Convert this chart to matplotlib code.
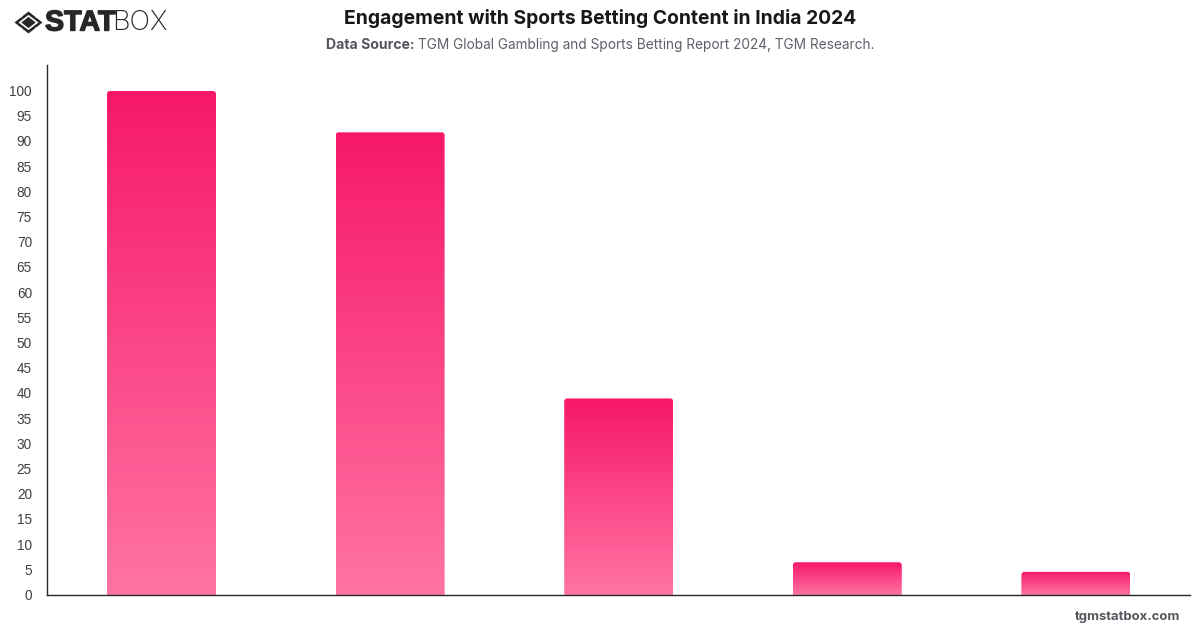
import numpy as np
import matplotlib
matplotlib.use("Agg")
import matplotlib.pyplot as plt
from matplotlib.colors import LinearSegmentedColormap
from matplotlib.patches import PathPatch, Polygon
from matplotlib.path import Path
from matplotlib.transforms import ScaledTranslation
import matplotlib.patheffects as pe

# Chart data
positions = [0, 1, 2, 3, 4]
values = [100, 91.8, 39, 6.5, 4.6]
y_ticks = list(range(0, 105, 5))

TITLE = "Engagement with Sports Betting Content in India 2024"
SOURCE_BOLD = "Data Source:"
SOURCE_TEXT = "TGM Global Gambling and Sports Betting Report 2024, TGM Research."
SITE = "tgmstatbox.com"

plt.rcParams["font.family"] = ["Inter", "DejaVu Sans"]
W, H = 1200, 628
fig = plt.figure(figsize=(W / 100, H / 100), dpi=100, facecolor="white")

# Plot area in pixel terms: left 47.2, width 1143, top 65, baseline 595
ax = fig.add_axes([47.2 / W, 1 - 595 / H, 1143 / W, 530 / H])
ymax = 530 / 5.04
ax.set_xlim(-0.5, 4.5)
ax.set_ylim(0, ymax)
for side in ("top", "right"):
    ax.spines[side].set_visible(False)
for side in ("left", "bottom"):
    ax.spines[side].set_color("#27272f")
    ax.spines[side].set_linewidth(1.0)
ax.set_xticks([])
ax.set_yticks(y_ticks)
ax.tick_params(axis="y", length=0, pad=11, labelsize=9.8, labelcolor="#3f3f46")
nudge = ScaledTranslation(0, 0.6 / 100, fig.dpi_scale_trans)
for tick in ax.yaxis.get_major_ticks():
    tick.label1.set_family(["Liberation Sans", "DejaVu Sans"])
    tick.label1.set_transform(tick.label1.get_transform() + nudge)

cmap = LinearSegmentedColormap.from_list("bar", ["#F7186A", "#FF74A4"])
grad = np.linspace(0, 1, 256).reshape(-1, 1)
bar_w = 109 / (1143 / 5)
rx = 3 / (1143 / 5)
ry = 3 / 5.04


def rounded_top(x0, x1, top):
    verts = [(x0, 0), (x0, top - ry), (x0, top), (x0 + rx, top),
             (x1 - rx, top), (x1, top), (x1, top - ry), (x1, 0), (x0, 0)]
    codes = [Path.MOVETO, Path.LINETO, Path.CURVE3, Path.CURVE3,
             Path.LINETO, Path.CURVE3, Path.CURVE3, Path.LINETO, Path.CLOSEPOLY]
    return Path(verts, codes)


for pos, val in zip(positions, values):
    x0, x1 = pos - bar_w / 2, pos + bar_w / 2
    im = ax.imshow(grad, extent=(x0, x1, 0, val), origin="upper", cmap=cmap,
                   aspect="auto", interpolation="bilinear", zorder=2)
    clip = PathPatch(rounded_top(x0, x1, val), transform=ax.transData,
                     facecolor="none", edgecolor="none")
    ax.add_patch(clip)
    im.set_clip_path(clip)
ax.set_xlim(-0.5, 4.5)
ax.set_ylim(0, ymax)

# Heading block
fig.text(600 / W, 1 - 18.5 / H, TITLE, ha="center", va="center",
         fontsize=13.9, fontweight="bold", color="#18181b")
fig.text(326 / W, 1 - 44.8 / H, SOURCE_BOLD, ha="left", va="center",
         fontsize=10.1, fontweight="bold", color="#55555f")
fig.text(418 / W, 1 - 44.8 / H, SOURCE_TEXT, ha="left", va="center",
         fontsize=9.84, color="#60606b")
fig.text(1180 / W, 1 - 617 / H, SITE, ha="right", va="center",
         fontsize=9.4, fontweight="bold", color="#55555f")

# Brand mark, laid out on a full-figure pixel grid
ov = fig.add_axes([0, 0, 1, 1], facecolor="none")
ov.set_xlim(0, W)
ov.set_ylim(H, 0)
ov.axis("off")
cx, cy = 28.5, 22.5


def diamond(half_w, half_h, colour):
    ov.add_patch(Polygon([(cx - half_w, cy), (cx, cy - half_h),
                          (cx + half_w, cy), (cx, cy + half_h)],
                         closed=True, fc=colour, ec="none"))


diamond(14, 11, "#27272a")
diamond(10, 7.6, "white")
diamond(7.2, 5.6, "#27272a")
# Light notches that split the outer ring into chevrons
ov.plot([cx - 7.2, cx - 11.2], [cy - 5.6, cy - 8.6], color="white", lw=0.8)
ov.plot([cx + 7.2, cx + 11.2], [cy - 5.6, cy - 8.6], color="white", lw=0.8)
ov.plot([cx - 7.2, cx - 11.2], [cy + 5.6, cy + 8.6], color="white", lw=0.8)
ov.plot([cx + 7.2, cx + 11.2], [cy + 5.6, cy + 8.6], color="white", lw=0.8)

ov.text(45, 22.5, "STAT", ha="left", va="center", fontsize=20.6,
        fontweight="bold", color="#27272a", family=["Liberation Sans", "DejaVu Sans"],
        path_effects=[pe.withStroke(linewidth=1.0, foreground="#27272a")])
ov.text(112.5, 22.5, "BOX", ha="left", va="center", fontsize=19.6,
        fontweight="light", color="#27272a", family=["Inter", "DejaVu Sans"])

fig.savefig("out.png", dpi=100, facecolor="white")
